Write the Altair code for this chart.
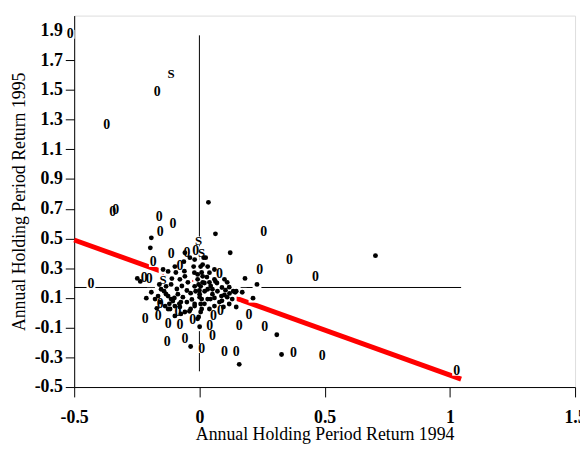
import altair as alt
import pandas as pd

# "o" markers
o_x = [-0.516, -0.370, -0.169, -0.346, -0.334, -0.433, -0.161, -0.106, -0.157, 0.257,
       0.360, 0.241, 0.463, 0.198, 0.159, 0.261, 0.376, 0.490, 0.147, 0.100,
       0.084, 0.041, 0.052, 0.009, 1.027, -0.129, -0.058, -0.125, -0.086, -0.216,
       -0.165, -0.027, -0.184, -0.113, -0.078, -0.200, -0.050, 0.080, 0.056, -0.157,
       -0.078, -0.220, -0.015]
o_y = [1.874, 1.262, 1.488, 0.677, 0.690, 0.191, 0.644, 0.597, 0.544, 0.544,
       0.358, 0.285, 0.238, -0.015, -0.088, -0.094, -0.274, -0.294, -0.267, -0.267,
       0.012, -0.088, -0.154, -0.241, -0.394, -0.194, -0.174, -0.074, 0.005, -0.041,
       -0.021, -0.048, 0.338, 0.398, 0.311, 0.225, 0.404, 0.258, -0.021, 0.059,
       -0.081, 0.231, 0.418]

# "s" markers
s_x = [-0.113, -0.003, 0.009, -0.145]
s_y = [1.608, 0.484, 0.404, 0.218]

# dot markers
d_x = [0.036, 0.064, -0.192, -0.196, 0.123, 0.703, 0.182, 0.230, 0.171, 0.143,
       0.214, 0.147, 0.309, 0.328, 0.159, -0.212, -0.248, -0.035, -0.058,
       -0.038, -0.023, 0.009, 0.033, 0.060, 0.100, 0.111, 0.064, 0.040, 0.013,
       -0.007, -0.019, -0.046, -0.058, -0.078, -0.094, -0.113, -0.133, -0.153, -0.125,
       -0.106, -0.086, -0.066, -0.050, -0.035, -0.015, 0.001, 0.005, 0.021, 0.033,
       0.052, 0.072, 0.088, 0.104, 0.119, 0.135, 0.080, 0.060, 0.040, 0.005,
       -0.007, 0.001, -0.035, -0.058, -0.078, -0.098, -0.117, -0.137, -0.157, -0.177,
       -0.192, -0.165, -0.141, 0.147, -0.007, -0.003, 0.001, 0.009, 0.009, -0.003,
       0.013, 0.017, -0.019, 0.025, 0.005, 0.013, 0.005, 0.052, 0.060, 0.111,
       -0.133, -0.113, -0.098, -0.074, -0.125, -0.074, -0.019, -0.145, -0.125, -0.098,
       -0.062, 0.033, 0.044, 0.096, 0.119, 0.131, -0.236, -0.019,
       -0.090, -0.070, -0.050, -0.030, 0.020, 0.030, 0.045, 0.070, 0.090, 0.100,
       -0.100, -0.120, -0.080, -0.040, 0.020, 0.060, -0.160, -0.170, -0.060, -0.020,
       0.040, 0.090, 0.120, -0.110, 0.000]
d_y = [0.743, 0.531, 0.504, 0.437, 0.404, 0.384, 0.231, 0.191, 0.138, 0.138,
       0.098, 0.039, -0.148, -0.281, -0.347, 0.098, 0.231, -0.227, 0.404,
       0.371, 0.311, 0.271, 0.311, 0.291, 0.225, 0.205, 0.211, 0.205, 0.205,
       0.225, 0.178, 0.205, 0.245, 0.225, 0.271, 0.191, 0.178, 0.158, 0.112,
       0.079, 0.125, 0.105, 0.072, 0.132, 0.145, 0.105, 0.059, 0.145, 0.092,
       0.125, 0.145, 0.112, 0.152, 0.172, 0.145, 0.072, 0.045, 0.025, 0.005,
       -0.041, -0.094, 0.025, 0.005, 0.039, -0.021, 0.025, 0.045, 0.072, 0.092,
       0.138, 0.112, 0.145, 0.145, 0.258, 0.191, 0.125, 0.092, 0.025, -0.028,
       0.324, 0.371, 0.358, 0.371, 0.311, 0.245, 0.178, 0.158, 0.225, 0.105,
       0.125, 0.092, 0.045, 0.072, 0.025, -0.008, 0.045, 0.291, 0.278, 0.311,
       0.344, 0.158, 0.092, 0.039, 0.059, 0.092, 0.211, 0.059,
       0.160, 0.180, 0.150, 0.090, 0.200, 0.240, 0.180, 0.200, 0.170, 0.120,
       0.100, 0.060, 0.060, 0.010, 0.060, 0.100, 0.190, 0.030, 0.280, 0.270,
       0.270, 0.080, 0.130, 0.230, 0.150]

# regression line and mean reference lines
reg_x = [-0.5, 1.045]
reg_y = [0.490, -0.447]
h_x = [-0.5, 1.045]
h_y = [0.17, 0.17]
v_x = [0.0, 0.0]
v_y = [-0.394, 1.867]

x_ticks = [-0.5, 0, 0.5, 1, 1.5]
y_ticks = [-0.5, -0.3, -0.1, 0.1, 0.3, 0.5, 0.7, 0.9, 1.1, 1.3, 1.5, 1.7, 1.9]

FONT = "Liberation Serif"

xs = alt.Scale(domain=[-0.5, 1.5], nice=False, zero=False)
ys = alt.Scale(domain=[-0.5, 2.0], nice=False, zero=False)

x_axis = alt.Axis(values=x_ticks, tickCount=len(x_ticks), title="Annual Holding Period Return 1994",
                  labelExpr="(datum.value < 0 ? '-' : '') + format(abs(datum.value), '~g')",
                  grid=False, domainColor="black", tickColor="black", tickSize=10,
                  labelFont=FONT, labelFontSize=18, labelFontWeight="bold", labelColor="black",
                  labelPadding=12,
                  titleFont=FONT, titleFontSize=18, titleFontWeight="normal", titleColor="black",
                  titleX=253.5, titleY=48, titleBaseline="middle", titleAlign="center",
                  labelFlush=False, labelOverlap=False)
y_axis = alt.Axis(values=y_ticks, tickCount=len(y_ticks), title="Annual Holding Period Return 1995",
                  labelExpr="(datum.value < 0 ? '-' : '') + format(abs(datum.value), '.1f')",
                  grid=False, domainColor="black", tickColor="black", tickSize=9,
                  labelFont=FONT, labelFontSize=18, labelFontWeight="bold", labelColor="black",
                  labelPadding=3,
                  titleFont=FONT, titleFontSize=18, titleFontWeight="normal", titleColor="black",
                  titleX=-55, titleY=188, titleBaseline="middle", titleAlign="center",
                  labelFlush=False, labelOverlap=False)

df_o = pd.DataFrame({"x": o_x, "y": o_y})
df_s = pd.DataFrame({"x": s_x, "y": s_y})
df_d = pd.DataFrame({"x": d_x, "y": d_y})
df_reg = pd.DataFrame({"x": reg_x, "y": reg_y})
df_h = pd.DataFrame({"x": h_x, "y": h_y})
df_v = pd.DataFrame({"x": v_x, "y": v_y})
df_all = pd.concat([df_o, df_s, df_d], ignore_index=True)

enc = dict(x=alt.X("x:Q", scale=xs, axis=x_axis), y=alt.Y("y:Q", scale=ys, axis=y_axis))

hline = alt.Chart(df_h).mark_line(color="black", strokeWidth=1).encode(**enc)
vline = alt.Chart(df_v).mark_line(color="black", strokeWidth=1).encode(**enc)
reg = alt.Chart(df_reg).mark_line(color="#ff0000", strokeWidth=5).encode(**enc)
boxes = alt.Chart(df_all).mark_square(color="white", opacity=1, size=80).encode(**enc)
o_text = alt.Chart(df_o).mark_text(text="0", font=FONT, fontSize=14, fontWeight="bold",
                                   color="black", baseline="middle", align="center").encode(**enc)
s_text = alt.Chart(df_s).mark_text(text="S", font=FONT, fontSize=13, fontWeight="bold",
                                   color="black", baseline="middle", align="center").encode(**enc)
dots = alt.Chart(df_d).mark_circle(color="black", opacity=1, size=24).encode(**enc)

chart = alt.layer(hline, vline, reg, boxes, o_text, s_text, dots).properties(
    width=507, height=376,
    autosize=alt.AutoSizeParams(type="none"),
    padding={"left": 67, "top": 5, "right": 5, "bottom": 58},
).configure_view(stroke=None).configure(background="white")

chart.save("out.html", embed_options={"renderer": "svg", "actions": False})
